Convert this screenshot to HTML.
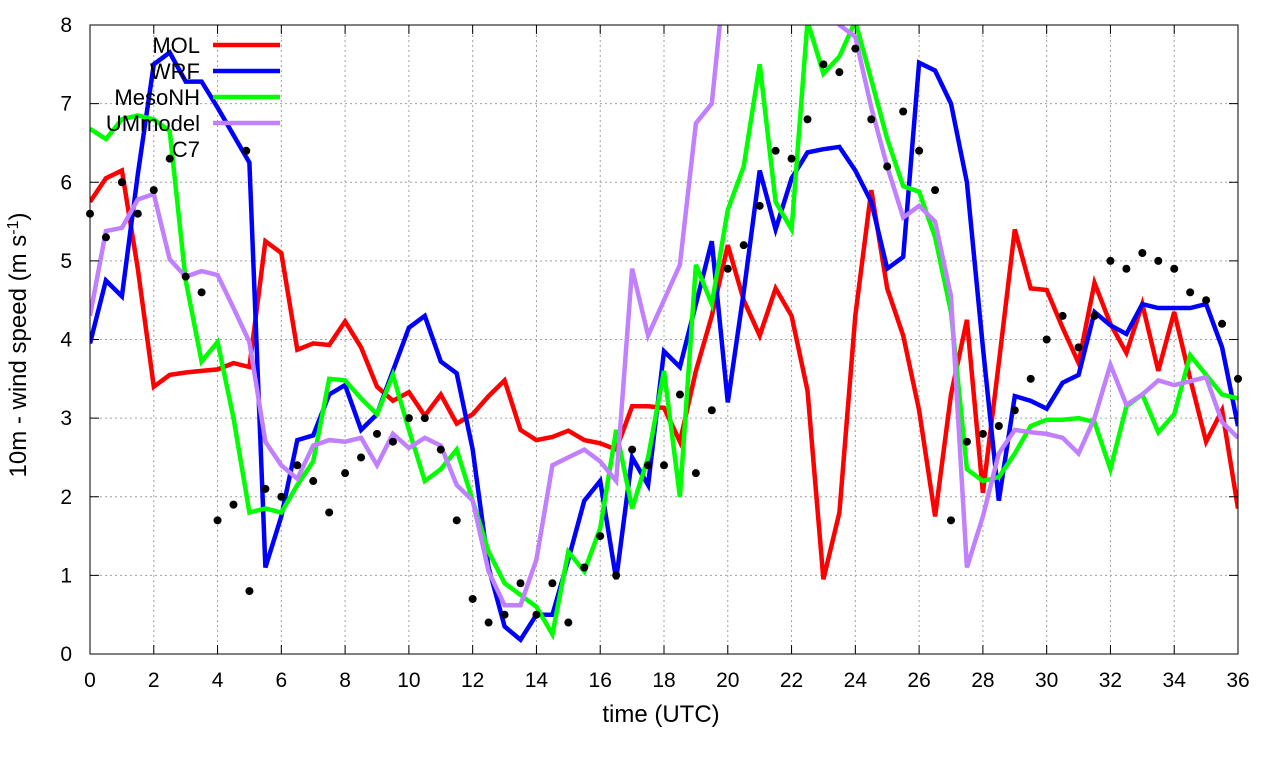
<!DOCTYPE html>
<html><head><meta charset="utf-8"><style>
html,body{margin:0;padding:0;background:#fff;}
svg{display:block;font-family:"Liberation Sans",sans-serif;}
</style></head><body>
<svg id="chart" width="1280" height="760" viewBox="0 0 1280 760" xmlns="http://www.w3.org/2000/svg">
<g id="grid"></g>
<g id="series"></g>
<rect x="90" y="25" width="1148" height="629" fill="none" stroke="#000" stroke-width="1"/>
<g id="ticks"></g>
<text x="661" y="722" font-size="24" text-anchor="middle">time (UTC)</text>
<text transform="translate(26,345) rotate(-90)" font-size="24" text-anchor="middle">10m - wind speed  (m s<tspan baseline-shift="super" font-size="16">-1</tspan>)</text>
<g id="legend"></g>
</svg>
<script>
const times = [];
for (let i = 0; i <= 72; i++) times.push(i / 2);
const seriesNames = ["MOL", "WRF", "MesoNH", "UMmodel"];
const seriesColors = ["#ff0000", "#0000ff", "#00ff00", "#c080ff"];
const molValues = [5.75,6.05,6.15,4.9,3.4,3.55,3.58,3.6,3.62,3.7,3.65,5.25,5.1,3.87,3.95,3.93,4.23,3.9,3.4,3.22,3.33,3.03,3.3,2.93,3.05,3.28,3.48,2.85,2.72,2.76,2.84,2.72,2.68,2.6,3.15,3.15,3.13,2.7,3.6,4.3,5.2,4.5,4.05,4.65,4.3,3.35,0.95,1.8,4.3,5.9,4.65,4.05,3.1,1.75,3.3,4.25,2.05,3.7,5.4,4.65,4.63,4.15,3.7,4.72,4.2,3.83,4.45,3.6,4.35,3.5,2.7,3.1,1.85];
const wrfValues = [3.95,4.75,4.55,6.1,7.5,7.65,7.28,7.28,6.95,6.6,6.25,1.1,1.75,2.72,2.78,3.3,3.42,2.85,3.05,3.6,4.15,4.3,3.72,3.57,2.6,1.1,0.35,0.18,0.5,0.5,1.2,1.95,2.2,0.95,2.5,2.15,3.85,3.65,4.45,5.25,3.2,4.6,6.15,5.4,6.05,6.38,6.42,6.45,6.15,5.75,4.9,5.05,7.52,7.42,7.0,6.0,3.9,1.95,3.28,3.22,3.12,3.45,3.55,4.35,4.18,4.07,4.45,4.4,4.4,4.4,4.45,3.9,2.9];
const mesonhValues = [6.68,6.55,6.8,6.85,6.8,6.65,4.75,3.72,3.97,3.0,1.8,1.85,1.8,2.15,2.45,3.5,3.48,3.25,3.05,3.55,2.85,2.2,2.35,2.6,1.95,1.3,0.9,0.75,0.6,0.25,1.3,1.05,1.6,2.85,1.85,2.5,3.6,2.0,4.95,4.45,5.65,6.2,7.5,5.75,5.4,8.05,7.38,7.6,8.05,7.3,6.55,5.95,5.88,5.3,4.35,2.35,2.2,2.25,2.55,2.9,2.98,2.98,3.0,2.95,2.35,3.15,3.3,2.82,3.05,3.8,3.55,3.3,3.25];
const umValues = [4.3,5.38,5.42,5.78,5.85,5.02,4.8,4.87,4.82,4.4,3.97,2.7,2.4,2.23,2.65,2.72,2.7,2.75,2.4,2.8,2.62,2.75,2.65,2.15,1.95,1.05,0.62,0.62,1.2,2.4,2.5,2.6,2.45,2.2,4.9,4.05,4.5,4.95,6.75,7.0,9.0,9.5,9.5,9.5,9.5,9.0,8.6,8.0,7.85,6.95,6.2,5.55,5.7,5.5,4.55,1.1,1.75,2.55,2.85,2.82,2.8,2.75,2.55,3.0,3.68,3.17,3.3,3.48,3.42,3.47,3.52,2.95,2.75];
const c7Times = [0,0.5,1,1.5,2,2.5,3,3.5,4,4.5,4.9,5,5.5,6,6.5,7,7.5,8,8.5,9,9.5,10,10.5,11,11.5,12,12.5,13,13.5,14,14.5,15,15.5,16,16.5,17,17.5,18,18.5,19,19.5,20,20.5,21,21.5,22,22.5,23,23.5,24,24.5,25,25.5,26,26.5,27,27.5,28,28.5,29,29.5,30,30.5,31,31.5,32,32.5,33,33.5,34,34.5,35,35.5,36];
const c7Values = [5.6,5.3,6.0,5.6,5.9,6.3,4.8,4.6,1.7,1.9,6.4,0.8,2.1,2.0,2.4,2.2,1.8,2.3,2.5,2.8,2.7,3.0,3.0,2.6,1.7,0.7,0.4,0.5,0.9,0.5,0.9,0.4,1.1,1.5,1.0,2.6,2.4,2.4,3.3,2.3,3.1,4.9,5.2,5.7,6.4,6.3,6.8,7.5,7.4,7.7,6.8,6.2,6.9,6.4,5.9,1.7,2.7,2.8,2.9,3.1,3.5,4.0,4.3,3.9,4.3,5.0,4.9,5.1,5.0,4.9,4.6,4.5,4.2,3.5];
const xTicks = [0,2,4,6,8,10,12,14,16,18,20,22,24,26,28,30,32,34,36];
const yTicks = [0,1,2,3,4,5,6,7,8];

const NS = "http://www.w3.org/2000/svg";
const X0 = 90, X1 = 1238, Y0 = 654, Y1 = 25;
function xs(t){ return X0 + (t / 36) * (X1 - X0); }
function ys(v){ return Y0 - (v / 8) * (Y0 - Y1); }
function mk(tag, attrs, parent){ const e = document.createElementNS(NS, tag); for (const k in attrs) e.setAttribute(k, attrs[k]); parent.appendChild(e); return e; }

const grid = document.getElementById("grid"), ticks = document.getElementById("ticks");
xTicks.forEach(t => {
  const g = mk("line", {x1: xs(t), x2: xs(t), y1: Y1, y2: Y0, stroke: "#a0a0a0", "stroke-dasharray": "2,3", "stroke-width": 1}, grid);
  
  
  mk("line", {x1: xs(t), x2: xs(t), y1: Y0, y2: Y0 - 9, stroke: "#000"}, ticks);
  mk("line", {x1: xs(t), x2: xs(t), y1: Y1, y2: Y1 + 9, stroke: "#000"}, ticks);
  const lb = mk("text", {x: xs(t), y: 687, "font-size": 21, "text-anchor": "middle"}, ticks);
  lb.textContent = t;
  
  
});
yTicks.forEach(v => {
  const g = mk("line", {x1: X0, x2: X1, y1: ys(v), y2: ys(v), stroke: "#a0a0a0", "stroke-dasharray": "2,3", "stroke-width": 1}, grid);
  
  
  mk("line", {x1: X0, x2: X0 + 9, y1: ys(v), y2: ys(v), stroke: "#000"}, ticks);
  mk("line", {x1: X1, x2: X1 - 9, y1: ys(v), y2: ys(v), stroke: "#000"}, ticks);
  const lb = mk("text", {x: 72, y: ys(v) + 7, "font-size": 21, "text-anchor": "end"}, ticks);
  lb.textContent = v;
  
  
});

const ser = document.getElementById("series");
const cp = mk("clipPath", {id: "clip"}, ser);
mk("rect", {x: X0, y: Y1, width: X1 - X0, height: Y0 - Y1}, cp);
const allVals = [molValues, wrfValues, mesonhValues, umValues];
allVals.forEach((vals, i) => {
  const d = vals.map((v, j) => (j ? "L" : "M") + xs(times[j]).toFixed(1) + "," + ys(v).toFixed(1)).join(" ");
  const p = mk("path", {d: d, fill: "none", stroke: seriesColors[i], "stroke-width": 4.5, "stroke-linejoin": "miter", "clip-path": "url(#clip)"}, ser);
  
  
});
c7Values.forEach((v, j) => {
  const c = mk("circle", {cx: xs(c7Times[j]), cy: ys(v), r: 4, fill: "#000"}, ser);
  
  
});

const leg = document.getElementById("legend");
const legY = [45, 71, 97, 123, 149];
["MOL", "WRF", "MesoNH", "UMmodel", "C7"].forEach((n, i) => {
  const t = mk("text", {x: 200, y: legY[i] + 8, "font-size": 22, "text-anchor": "end"}, leg);
  t.textContent = n;
  
  
  if (i < 4) {
    const l = mk("line", {x1: 213, x2: 280, y1: legY[i], y2: legY[i], stroke: seriesColors[i], "stroke-width": 4.5}, leg);
    
    
  }
});
</script>
</body></html>
